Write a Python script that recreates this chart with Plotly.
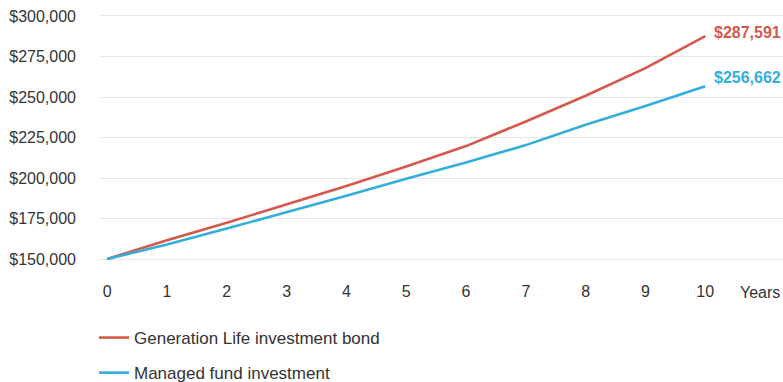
import plotly.graph_objects as go

years = list(range(0, 11))
gen_life = [150000, 161600, 172400, 183600, 195100, 207100, 219700, 234900, 250800, 267800, 287591]
managed = [150000, 158900, 168800, 178800, 189100, 199500, 209600, 220300, 232900, 244400, 256662]
series_names = ["Generation Life investment bond", "Managed fund investment"]
colors = ["#d4594c", "#33aedb"]
y_ticks = [150000, 175000, 200000, 225000, 250000, 275000, 300000]
x_tickvals = list(range(0, 11))
x_axis_title = "Years"

FONT = "Liberation Sans, Arial, sans-serif"
label_yshift = [-7, -2]

fig = go.Figure()
for i, (name, vals) in enumerate(zip(series_names, [gen_life, managed])):
    fig.add_trace(go.Scatter(
        x=years, y=vals, mode="lines", name=name,
        line=dict(color=colors[i], width=2.6),
        legendgroup=f"g{i}", hoverinfo="skip",
    ))
    fig.add_annotation(
        xref="paper", x=1, y=vals[-1], text=f"<b>${vals[-1]:,}</b>",
        showarrow=False, xanchor="right", yanchor="bottom",
        xshift=0, yshift=label_yshift[i],
        font=dict(family=FONT, size=16, color=colors[i]),
    )

fig.add_annotation(
    xref="paper", x=1, yref="paper", y=0, text=x_axis_title,
    showarrow=False, xanchor="right", yanchor="middle",
    xshift=-1, yshift=-27, font=dict(family=FONT, size=16, color="#333333"),
)

fig.update_layout(
    width=783, height=382,
    margin=dict(l=100, r=0, t=10, b=117, autoexpand=False),
    plot_bgcolor="white", paper_bgcolor="white",
    font=dict(family=FONT, size=16, color="#333333"),
    showlegend=True,
    legend=dict(
        orientation="v", x=-6 / 683, xanchor="left",
        yref="container", y=1 - 320 / 382, yanchor="top",
        tracegroupgap=10, font=dict(size=17, color="#333333"),
        bgcolor="rgba(0,0,0,0)",
    ),
    xaxis=dict(
        range=[-0.12, 11.3], tickvals=x_tickvals,
        showgrid=False, zeroline=False, showline=False, ticks="",
        ticklabelstandoff=15, fixedrange=True,
        tickfont=dict(size=16),
    ),
    yaxis=dict(
        range=[146300, 303700], tickvals=y_ticks, tickformat="$,.0f",
        showgrid=True, gridcolor="#e6e6e6", gridwidth=1.2,
        zeroline=False, showline=False, ticks="",
        ticklabelstandoff=23, fixedrange=True,
        tickfont=dict(size=16),
    ),
)

fig.write_html("out.html")
